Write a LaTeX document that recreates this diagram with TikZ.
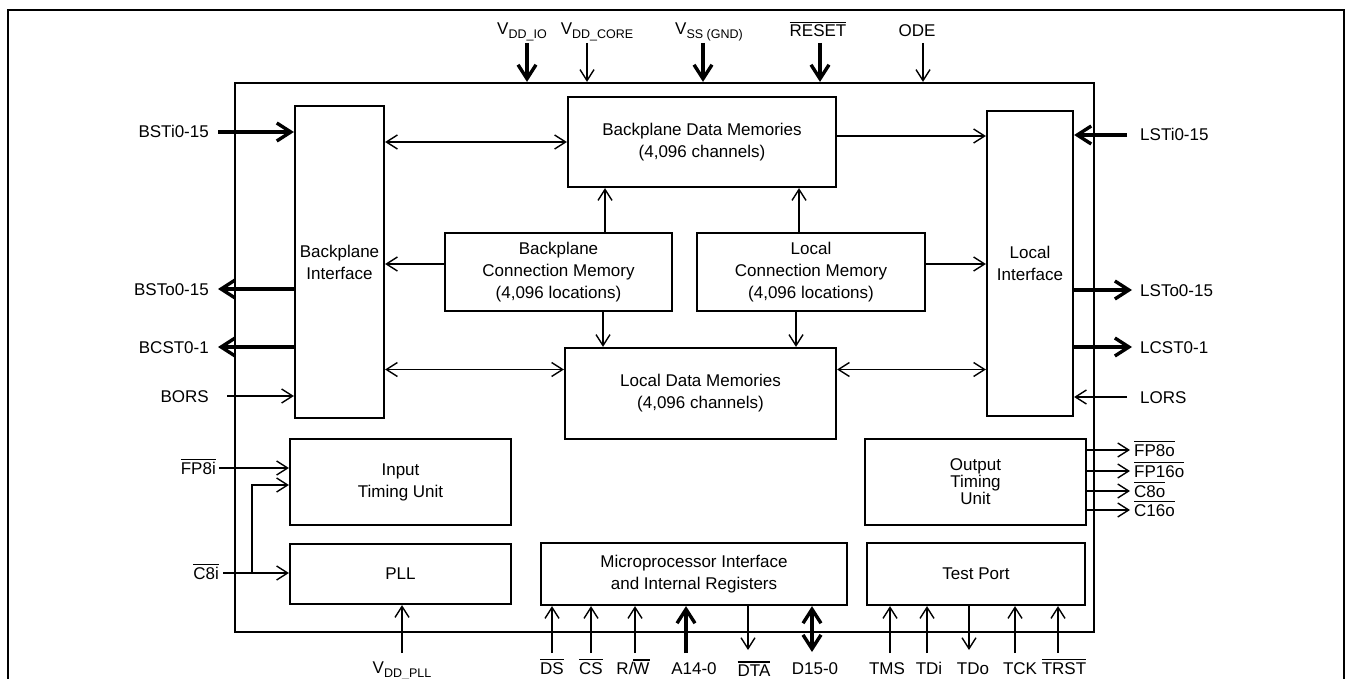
\documentclass[tikz,border=0pt]{standalone}
\usepackage{fontspec}
\setmainfont{Liberation Sans}
\usetikzlibrary{arrows.meta,calc}
\newcommand\ovl[1]{\leavevmode\setbox0\hbox{#1}\rlap{\rule[\dimexpr\ht0+1.8pt\relax]{\wd0}{1.3pt}}\box0}
\newcommand\sbs[1]{\raisebox{-4pt}{\fontsize{12.5}{12.5}\selectfont #1}}
\begin{document}
\begin{tikzpicture}[x=1pt,y=-1pt,
  blk/.style={draw,line width=2.2pt,inner sep=0pt,align=center,font=\fontsize{17}{22}\selectfont},
  lbl/.style={inner sep=0pt,font=\fontsize{17}{22}\selectfont},
  tn/.style={line width=1.4pt,-{Straight Barb[length=11pt,width=14pt]}},
  tnb/.style={line width=1.4pt,{Straight Barb[length=11pt,width=14pt]}-{Straight Barb[length=11pt,width=14pt]}},
  tk/.style={line width=3.4pt,-{Straight Barb[length=14pt,width=18pt]}},
  tkb/.style={line width=3.4pt,{Straight Barb[length=14pt,width=18pt]}-{Straight Barb[length=14pt,width=18pt]}}]
\useasboundingbox (0,0) rectangle (1351,679);
% outer frame
\draw[line width=2.2pt] (8,681) -- (8,10) -- (1344,10) -- (1344,681);
% chip
\node[draw,line width=2.2pt,inner sep=0pt,minimum width=859pt,minimum height=549pt] (chip) at (664.5,357.5) {};
% blocks
\node[blk,minimum width=89pt,minimum height=312pt] (bi) at (339.5,262) {Backplane\\Interface};
\node[blk,minimum width=268pt,minimum height=90pt] (bdm) at (702,142) {Backplane Data Memories\\(4,096 channels)};
\node[blk,minimum width=86pt,minimum height=305pt] (li) at (1030,263.5) {Local\\Interface};
\node[blk,minimum width=227pt,minimum height=78pt] (bcm) at (558.5,272) {Backplane\\Connection Memory\\(4,096 locations)};
\node[blk,minimum width=228pt,minimum height=78pt] (lcm) at (811,272) {Local\\Connection Memory\\(4,096 locations)};
\node[blk,minimum width=271pt,minimum height=91pt] (ldm) at (700.5,393.5) {Local Data Memories\\(4,096 channels)};
\node[blk,minimum width=221pt,minimum height=86pt] (itu) at (400.5,482) {Input\\Timing Unit};
\node[blk,minimum width=221pt,minimum height=60pt] (pll) at (400.5,574) {PLL};
\node[blk,minimum width=306pt,minimum height=62pt] (mpi) at (694,574) {Microprocessor Interface\\and Internal Registers};
\node[blk,minimum width=221pt,minimum height=86pt,font=\fontsize{17}{17}\selectfont] (otu) at (975.5,482) {Output\\Timing\\Unit};
\node[blk,minimum width=218pt,minimum height=62pt] (tp) at (976,574) {Test Port};
% internal connectors
\draw[tnb] (bdm.west) -- (bdm.west -| bi.east);
\draw[tn] ([yshift=6pt]bdm.east) -- ([yshift=6pt]bdm.east -| li.west);
\draw[tn] ([xshift=46.5pt]bcm.north) -- ([xshift=46.5pt]bcm.north |- bdm.south);
\draw[tn] ([xshift=-12pt]lcm.north) -- ([xshift=-12pt]lcm.north |- bdm.south);
\draw[tn] ([yshift=8pt]bcm.west) -- ([yshift=8pt]bcm.west -| bi.east);
\draw[tn] ([yshift=8pt]lcm.east) -- ([yshift=8pt]lcm.east -| li.west);
\draw[tn] ([xshift=44.5pt]bcm.south) -- ([xshift=44.5pt]bcm.south |- ldm.north);
\draw[tn] ([xshift=-15pt]lcm.south) -- ([xshift=-15pt]lcm.south |- ldm.north);
\draw[tnb] ([yshift=24pt]ldm.west) -- ([yshift=24pt]ldm.west -| bi.east);
\draw[tnb] ([yshift=24pt]ldm.east) -- ([yshift=24pt]ldm.east -| li.west);
% left pins
\coordinate (pbsti) at (218,132);
\draw[tk] (pbsti) -- (pbsti -| bi.west);
\node[lbl,anchor=base east] (lbsti) at (209,138) {BSTi0-15};
\coordinate (pbsto) at (218,289);
\draw[tk] (pbsto -| bi.west) -- (pbsto);
\node[lbl,anchor=base east] (lbsto) at (209,295) {BSTo0-15};
\coordinate (pbcst) at (218,347);
\draw[tk] (pbcst -| bi.west) -- (pbcst);
\node[lbl,anchor=base east] (lbcst) at (209,353) {BCST0-1};
\coordinate (pbors) at (227,396);
\draw[tn] (pbors) -- (pbors -| bi.west);
\node[lbl,anchor=base east] (lbors) at (209,402) {BORS};
% right pins
\coordinate (plsti) at (1127,135);
\draw[tk] (plsti) -- (plsti -| li.east);
\node[lbl,anchor=base west] (llsti) at (1140,141) {LSTi0-15};
\coordinate (plsto) at (1132,290);
\draw[tk] (plsto -| li.east) -- (plsto);
\node[lbl,anchor=base west] (llsto) at (1140,296) {LSTo0-15};
\coordinate (plcst) at (1132,347);
\draw[tk] (plcst -| li.east) -- (plcst);
\node[lbl,anchor=base west] (llcst) at (1140,353) {LCST0-1};
\coordinate (plors) at (1127,397);
\draw[tn] (plors) -- (plors -| li.east);
\node[lbl,anchor=base west] (llors) at (1140,403) {LORS};
% timing inputs
\coordinate (pfp8i) at (219,468);
\draw[tn] (pfp8i) -- (pfp8i -| itu.west);
\node[lbl,anchor=base east] (lfp8i) at (216,474) {\ovl{FP8i}};
\coordinate (pc8i) at (223,573);
\draw[tn] (pc8i) -- (pc8i -| pll.west);
\coordinate (pbr) at (252,573);
\draw[tn] (pbr) |- ([yshift=-3pt]itu.west);
\node[lbl,anchor=base east] (lc8i) at (219,579) {\ovl{C8i}};
% VDD_PLL
\coordinate (pvpll) at (402,653);
\draw[tn] (pvpll) -- (pvpll |- pll.south);
\node[lbl,anchor=base] (lvpll) at (402,673) {V\sbs{DD\_PLL}};
% microprocessor pins
\coordinate (pds) at (552,653);
\draw[tn] (pds) -- (pds |- mpi.south);
\node[lbl,anchor=base] (lds) at (552,674) {\ovl{DS}};
\coordinate (pcs) at (591,653);
\draw[tn] (pcs) -- (pcs |- mpi.south);
\node[lbl,anchor=base] (lcs) at (591,674) {\ovl{CS}};
\coordinate (prw) at (635,653);
\draw[tn] (prw) -- (prw |- mpi.south);
\node[lbl,anchor=base] (lrw) at (633,674) {R/\ovl{W}};
\coordinate (pa) at (686,653);
\draw[tk] (pa) -- (pa |- mpi.south);
\node[lbl,anchor=base] (la) at (694,674) {A14-0};
\coordinate (pdta) at (748,650);
\draw[tn] (pdta |- mpi.south) -- (pdta);
\node[lbl,anchor=base] (ldta) at (754,676) {\ovl{DTA}};
\coordinate (pd) at (812,652);
\draw[tkb] (pd) -- (pd |- mpi.south);
\node[lbl,anchor=base] (ld) at (815,674) {D15-0};
% test port pins
\coordinate (ptms) at (890,653);
\draw[tn] (ptms) -- (ptms |- tp.south);
\node[lbl,anchor=base] (ltms) at (887,674) {TMS};
\coordinate (ptdi) at (927,653);
\draw[tn] (ptdi) -- (ptdi |- tp.south);
\node[lbl,anchor=base] (ltdi) at (929,674) {TDi};
\coordinate (ptdo) at (969,650);
\draw[tn] (ptdo |- tp.south) -- (ptdo);
\node[lbl,anchor=base] (ltdo) at (973,674) {TDo};
\coordinate (ptck) at (1015,653);
\draw[tn] (ptck) -- (ptck |- tp.south);
\node[lbl,anchor=base] (ltck) at (1020,674) {TCK};
\coordinate (ptrst) at (1058,653);
\draw[tn] (ptrst) -- (ptrst |- tp.south);
\node[lbl,anchor=base] (ltrst) at (1064,674) {\ovl{TRST}};
% top pins
\coordinate (pvio) at (527,43);
\draw[tk] (pvio) -- (pvio |- chip.north);
\node[lbl,anchor=base] (lvio) at (522,35) {V\sbs{DD\_IO}};
\coordinate (pvcore) at (587,43);
\draw[tn] (pvcore) -- (pvcore |- chip.north);
\node[lbl,anchor=base] (lvcore) at (597,35) {V\sbs{DD\_CORE}};
\coordinate (pvss) at (703,43);
\draw[tk] (pvss) -- (pvss |- chip.north);
\node[lbl,anchor=base] (lvss) at (709,35) {V\sbs{SS (GND)}};
\coordinate (preset) at (820,43);
\draw[tk] (preset) -- (preset |- chip.north);
\node[lbl,anchor=base] (lreset) at (818,37) {\ovl{RESET}};
\coordinate (pode) at (923,43);
\draw[tn] (pode) -- (pode |- chip.north);
\node[lbl,anchor=base] (lode) at (917,37) {ODE};
% output timing pins
\coordinate (pfp8o) at (1130,450);
\draw[tn] (pfp8o -| otu.east) -- (pfp8o);
\node[lbl,anchor=base west] (lfp8o) at (1134,456) {\ovl{FP8o}};
\coordinate (pfp16o) at (1130,471);
\draw[tn] (pfp16o -| otu.east) -- (pfp16o);
\node[lbl,anchor=base west] (lfp16o) at (1134,477) {\ovl{FP16o}};
\coordinate (pc8o) at (1130,491);
\draw[tn] (pc8o -| otu.east) -- (pc8o);
\node[lbl,anchor=base west] (lc8o) at (1134,497) {\ovl{C8o}};
\coordinate (pc16o) at (1130,510);
\draw[tn] (pc16o -| otu.east) -- (pc16o);
\node[lbl,anchor=base west] (lc16o) at (1134,516) {\ovl{C16o}};
\end{tikzpicture}
\end{document}
